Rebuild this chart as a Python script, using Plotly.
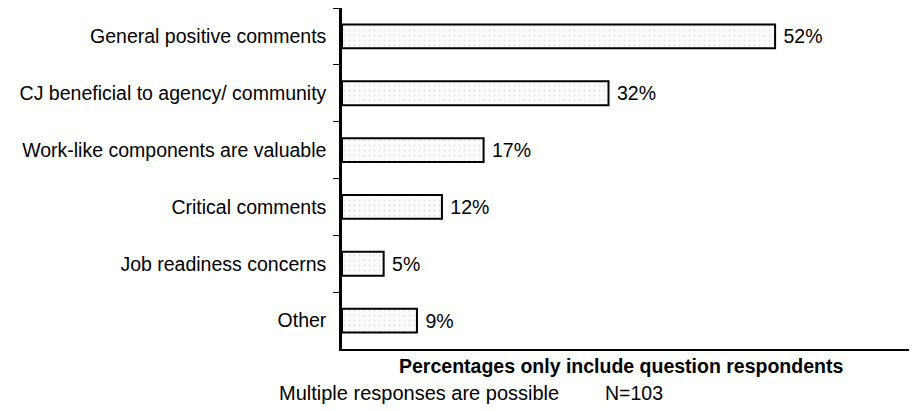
import plotly.graph_objects as go

categories = [
    "General positive comments",
    "CJ beneficial to agency/ community",
    "Work-like components are valuable",
    "Critical comments",
    "Job readiness concerns",
    "Other",
]
percents = [52, 32, 17, 12, 5, 9]

note_main = "Percentages only include question respondents"
note_multi = "Multiple responses are possible"
note_n = "N=103"

font_family = "Liberation Sans, Arial, sans-serif"

fig = go.Figure()
fig.add_trace(go.Bar(
    x=percents,
    y=categories,
    orientation="h",
    width=0.42,
    marker=dict(
        color="white",
        line=dict(color="black", width=2),
        pattern=dict(shape=".", fgcolor="#c4c4c4", bgcolor="#fcfcfc", size=5, solidity=0.1),
    ),
    texttemplate=" %{x}%",
    textposition="outside",
    textfont=dict(size=19.5, color="black", family=font_family),
    cliponaxis=False,
    showlegend=False,
))

# page body has an 8px margin; the plot runs off the right edge like the scan
fig.update_layout(
    width=917,
    height=403,
    margin=dict(l=334, r=0, t=0, b=62),
    paper_bgcolor="white",
    plot_bgcolor="white",
    font=dict(family=font_family, size=19.5, color="black"),
    bargap=0.58,
)
fig.update_xaxes(
    range=[0, 70],
    showline=True, linecolor="black", linewidth=1.5,
    showgrid=False, zeroline=False,
    showticklabels=False, ticks="",
)
fig.update_yaxes(
    autorange="reversed",
    showline=True, linecolor="black", linewidth=2.5,
    showgrid=False, zeroline=False,
    ticks="outside", tickson="boundaries", ticklen=6, tickwidth=1.2, tickcolor="black",
    tickfont=dict(size=19.5),
    ticklabelstandoff=9,
)

# positions below are in paper units of the 583px-wide plot area
fig.add_annotation(
    text="<b>" + note_main + "</b>", xref="paper", yref="paper",
    x=0.478, y=-0.05, xanchor="center", yanchor="middle",
    showarrow=False, font=dict(size=19.5),
)
fig.add_annotation(
    text=note_multi, xref="paper", yref="paper",
    x=-0.111, y=-0.129, xanchor="left", yanchor="middle",
    showarrow=False, font=dict(size=20),
)
fig.add_annotation(
    text=note_n, xref="paper", yref="paper",
    x=0.448, y=-0.129, xanchor="left", yanchor="middle",
    showarrow=False, font=dict(size=19.5),
)

fig.write_html("out.html")
